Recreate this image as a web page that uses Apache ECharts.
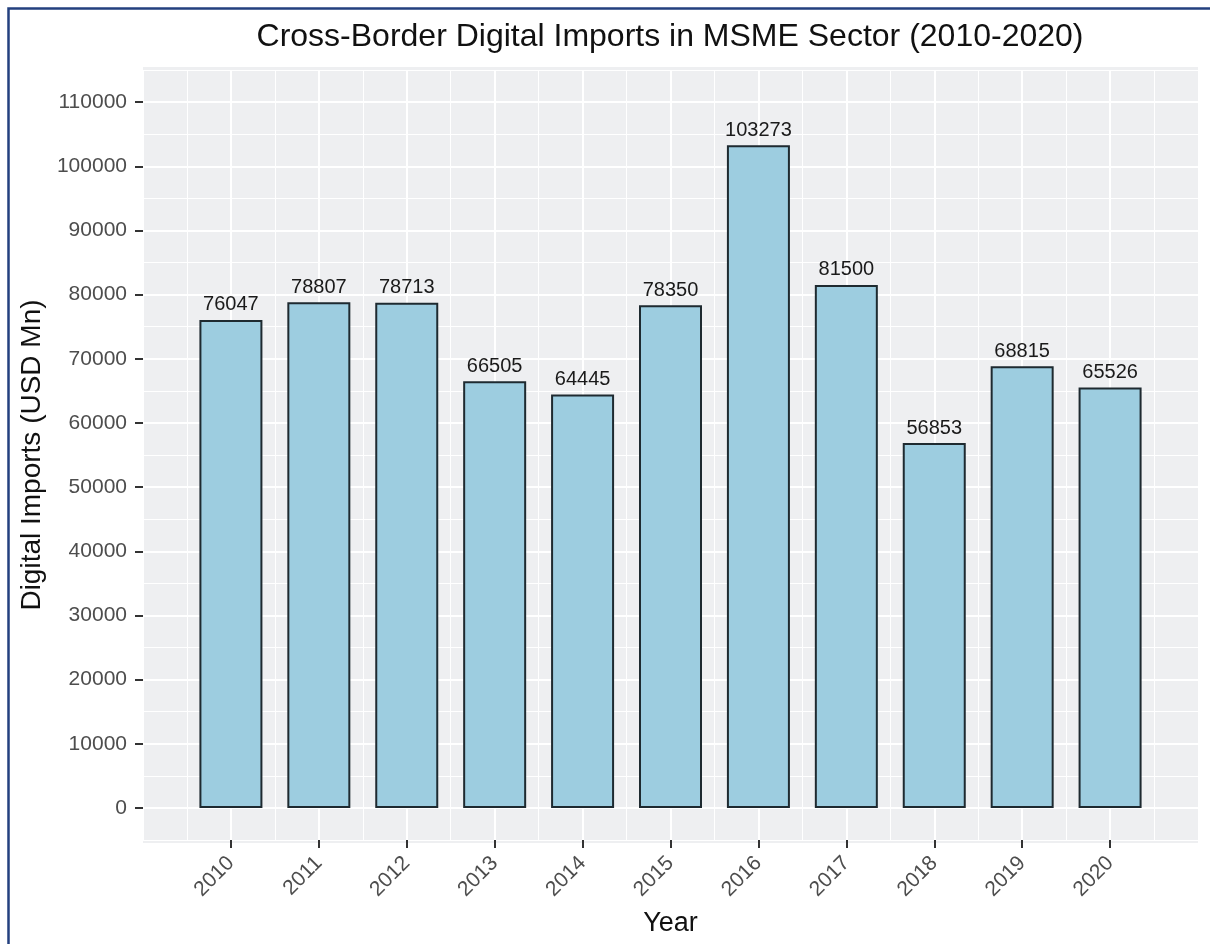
<!DOCTYPE html>
<html>
<head>
<meta charset="utf-8">
<title>Cross-Border Digital Imports in MSME Sector</title>
<script src="https://cdn.jsdelivr.net/npm/echarts@6/dist/echarts.min.js"></script>
<style>
  html, body { margin: 0; padding: 0; background: #fff; }
  #main { width: 1210px; height: 944px; }
</style>
</head>
<body>
<div id="main"></div>
<script>
// data
var years = [2010, 2011, 2012, 2013, 2014, 2015, 2016, 2017, 2018, 2019, 2020];
var imports = [76047, 78807, 78713, 66505, 64445, 78350, 103273, 81500, 56853, 68815, 65526];
var yTicks = [0, 10000, 20000, 30000, 40000, 50000, 60000, 70000, 80000, 90000, 100000, 110000];

var fontFamily = 'Liberation Sans, Arial, sans-serif';
var panelColor = '#eeeff1';

var myChart = echarts.init(document.getElementById('main'));

var option = {
  backgroundColor: '#fff',
  textStyle: { fontFamily: fontFamily },
  title: {
    text: 'Cross-Border Digital Imports in MSME Sector (2010-2020)',
    left: 665,
    top: 16,
    textAlign: 'center',
    textStyle: { fontSize: 32, fontWeight: 'normal', color: '#111', fontFamily: fontFamily }
  },
  // frame + panel background
  graphic: [
    {
      type: 'rect', z: -10, silent: true,
      shape: { x: 143, y: 67, width: 1055, height: 776 },
      style: { fill: panelColor }
    },
    {
      type: 'polyline', z: 100, silent: true,
      shape: { points: [[8.5, 944], [8.5, 8.5], [1210, 8.5]] },
      style: { stroke: '#23407f', lineWidth: 2.5, fill: null }
    }
  ],
  grid: {
    left: 143,
    right: 12,
    top: 70,
    bottom: 104
  },
  xAxis: [
    {
      type: 'value',
      min: 2009,
      max: 2021,
      interval: 0.5,
      name: 'Year',
      nameLocation: 'middle',
      nameGap: 70,
      nameTextStyle: { fontSize: 27, color: '#111', fontFamily: fontFamily },
      axisLine: { show: false, onZero: false },
      axisTick: { show: true, customValues: years, length: 8, lineStyle: { color: '#333', width: 2 } },
      axisLabel: {
        customValues: years,
        rotate: 45,
        margin: 20,
        padding: [32, 0, 0, 0],
        fontSize: 21,
        color: '#4d4d4d',
        formatter: function (v) { return String(v); }
      },
      splitLine: { show: true, lineStyle: { color: '#ffffff', width: 2 } }
    },
    {
      type: 'value',
      min: 2009,
      max: 2021,
      interval: 0.5,
      axisLine: { show: false, onZero: false },
      axisTick: { show: false },
      axisLabel: { show: false },
      splitLine: { show: true, lineStyle: { color: '#ffffff', width: 1 } }
    }
  ],
  yAxis: [
    {
      type: 'value',
      min: -5000,
      max: 115000,
      interval: 5000,
      name: 'Digital Imports (USD Mn)',
      nameLocation: 'middle',
      nameGap: 97,
      nameTextStyle: { fontSize: 28, color: '#111', fontFamily: fontFamily },
      axisLine: { show: false, onZero: false },
      axisTick: { show: true, customValues: yTicks, length: 8, lineStyle: { color: '#333', width: 2 } },
      axisLabel: {
        customValues: yTicks,
        margin: 16,
        fontSize: 21,
        color: '#4d4d4d',
        formatter: function (v) { return String(v); }
      },
      splitLine: { show: true, lineStyle: { color: '#ffffff', width: 2 } }
    },
    {
      type: 'value',
      min: -5000,
      max: 115000,
      interval: 5000,
      axisLine: { show: false, onZero: false },
      axisTick: { show: false },
      axisLabel: { show: false },
      splitLine: { show: true, lineStyle: { color: '#ffffff', width: 1 } }
    }
  ],
  series: [
    {
      name: 'Digital Imports',
      type: 'bar',
      xAxisIndex: 0,
      yAxisIndex: 0,
      barWidth: 63,
      data: years.map(function (y, i) { return [y, imports[i]]; }),
      itemStyle: {
        color: '#9dcde0',
        borderColor: '#1e2a30',
        borderWidth: 2
      },
      label: {
        show: true,
        position: 'top',
        distance: 5,
        fontSize: 20,
        color: '#1a1a1a',
        fontFamily: fontFamily,
        formatter: function (p) { return p.value[1]; }
      }
    }
  ]
};

myChart.setOption(option);
</script>
</body>
</html>
